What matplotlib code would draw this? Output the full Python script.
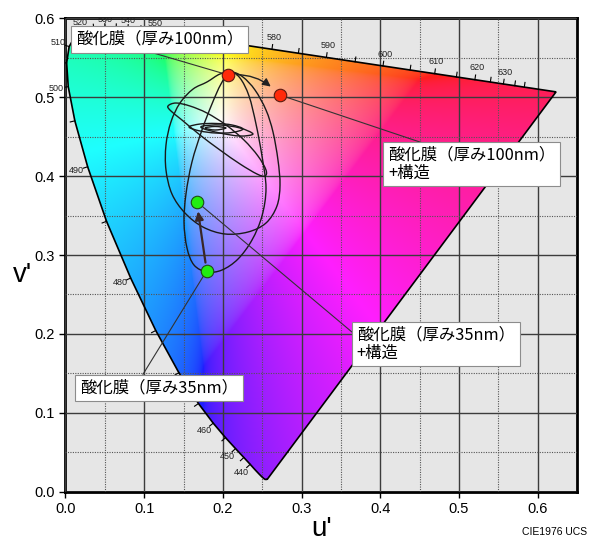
import numpy as np
import matplotlib.pyplot as plt
from matplotlib.path import Path
from matplotlib.patches import PathPatch, Polygon, FancyArrowPatch

plt.rcParams['font.family'] = ['Liberation Sans', 'DejaVu Sans']
JP = ['Noto Sans CJK JP', 'DejaVu Sans']

# CIE 1931 2 deg spectral locus (x, y), 380-700 nm every 5 nm
wavelengths = np.arange(380, 705, 5)
locus_x = [0.1741, 0.1740, 0.1738, 0.1736, 0.1733, 0.1730, 0.1726, 0.1721, 0.1714, 0.1703,
           0.1689, 0.1669, 0.1644, 0.1611, 0.1566, 0.1510, 0.1440, 0.1355, 0.1241, 0.1096,
           0.0913, 0.0687, 0.0454, 0.0235, 0.0082, 0.0039, 0.0139, 0.0389, 0.0743, 0.1142,
           0.1547, 0.1929, 0.2296, 0.2658, 0.3016, 0.3373, 0.3731, 0.4087, 0.4441, 0.4788,
           0.5125, 0.5448, 0.5752, 0.6029, 0.6270, 0.6482, 0.6658, 0.6801, 0.6915, 0.7006,
           0.7079, 0.7140, 0.7190, 0.7230, 0.7260, 0.7283, 0.7300, 0.7311, 0.7320, 0.7327,
           0.7334, 0.7340, 0.7344, 0.7346, 0.7347]
locus_y = [0.0050, 0.0050, 0.0049, 0.0049, 0.0048, 0.0048, 0.0048, 0.0048, 0.0051, 0.0058,
           0.0069, 0.0086, 0.0109, 0.0138, 0.0177, 0.0227, 0.0297, 0.0399, 0.0578, 0.0868,
           0.1327, 0.2007, 0.2950, 0.4127, 0.5384, 0.6548, 0.7502, 0.8120, 0.8338, 0.8262,
           0.8059, 0.7816, 0.7543, 0.7243, 0.6923, 0.6589, 0.6245, 0.5896, 0.5547, 0.5202,
           0.4866, 0.4544, 0.4242, 0.3965, 0.3725, 0.3514, 0.3340, 0.3197, 0.3083, 0.2993,
           0.2920, 0.2859, 0.2809, 0.2770, 0.2740, 0.2717, 0.2700, 0.2689, 0.2680, 0.2673,
           0.2666, 0.2660, 0.2656, 0.2654, 0.2653]
label_wl = [440, 450, 460, 480, 490, 500, 510, 520, 530, 540, 550,
            580, 590, 600, 610, 620, 630]

# measured points (u', v')
red_100 = (0.2065, 0.528)
red_100s = (0.2725, 0.5025)
green_35s = (0.1667, 0.3675)
green_35 = (0.1794, 0.280)

# colour trajectories
loop_outer = [(0.1798, 0.519), (0.162, 0.510), (0.1455, 0.4924), (0.134, 0.4684),
              (0.1277, 0.4392), (0.1277, 0.4076), (0.1353, 0.3772), (0.1518, 0.3532),
              (0.1747, 0.3354), (0.2027, 0.3266), (0.2319, 0.3291), (0.2548, 0.3405),
              (0.2687, 0.362), (0.2726, 0.3886), (0.27, 0.4203), (0.2637, 0.4557),
              (0.2548, 0.4835), (0.2408, 0.5089), (0.2255, 0.5253), (0.2116, 0.5316),
              (0.1963, 0.5291)]
loop_mid = [(0.1798, 0.2785), (0.1633, 0.2873), (0.1544, 0.3089), (0.1506, 0.3418),
            (0.1531, 0.3772), (0.1607, 0.4177), (0.1734, 0.4582), (0.1861, 0.4911),
            (0.1976, 0.5165), (0.209, 0.5316), (0.2217, 0.5241), (0.2332, 0.5013),
            (0.2421, 0.4658), (0.2497, 0.4253), (0.2548, 0.3848), (0.2497, 0.3494),
            (0.237, 0.319), (0.2192, 0.2949), (0.1989, 0.281)]
loop_tilt = [(0.1302, 0.4886), (0.1404, 0.4924), (0.1582, 0.4886), (0.1798, 0.4797),
             (0.204, 0.4646), (0.2268, 0.4456), (0.2446, 0.4253), (0.2548, 0.4076),
             (0.2535, 0.400), (0.2434, 0.4025), (0.2218, 0.4152), (0.1963, 0.4329),
             (0.1709, 0.4519), (0.148, 0.4709), (0.134, 0.4823)]
flat_1 = [(0.1569, 0.462), (0.1709, 0.4658), (0.1912, 0.4665), (0.2116, 0.4646),
          (0.2255, 0.4595), (0.2116, 0.4551), (0.1912, 0.4544), (0.1709, 0.4570)]
flat_2 = [(0.1747, 0.4633), (0.1963, 0.4646), (0.2217, 0.4608), (0.2382, 0.4532),
          (0.2217, 0.4506), (0.1963, 0.4544), (0.1747, 0.4601)]
flat_3 = [(0.1773, 0.4608), (0.19, 0.4627), (0.204, 0.4608), (0.19, 0.4582)]


def xy_to_uv(x, y):
    x = np.asarray(x)
    y = np.asarray(y)
    d = -2 * x + 12 * y + 3
    return 4 * x / d, 9 * y / d


def smooth_path(pts, closed=True):
    p = np.asarray(pts, dtype=float)
    n = len(p)
    verts = [p[0]]
    codes = [Path.MOVETO]
    segs = n if closed else n - 1
    for i in range(segs):
        p0 = p[(i - 1) % n] if (closed or i > 0) else p[0]
        p1 = p[i]
        p2 = p[(i + 1) % n]
        p3 = p[(i + 2) % n] if (closed or i + 2 < n) else p[-1]
        verts += [p1 + (p2 - p0) / 6, p2 - (p3 - p1) / 6, p2]
        codes += [Path.CURVE4] * 3
    return Path(verts, codes)


fig = plt.figure(figsize=(5.89, 5.41), dpi=100)
ax = fig.add_axes([0.1112, 0.0906, 0.8684, 0.8761])
ax.set_facecolor('#e6e6e6')
ax.set_xlim(0, 0.65)
ax.set_ylim(0, 0.6)

lu, lv = xy_to_uv(locus_x, locus_y)
outline = np.column_stack([lu, lv])

# chromaticity fill: out-of-gamut colours are pulled toward white
uu, vv = np.meshgrid(np.linspace(0, 0.65, 520), np.linspace(0, 0.6, 480))
d = 6 * uu - 16 * vv + 12
cx = 9 * uu / d
cy = np.maximum(4 * vv / d, 1e-4)
X = cx / cy
Y = np.ones_like(X)
Z = (1 - cx - cy) / cy
M = np.array([[3.2406, -1.5372, -0.4986],
              [-0.9689, 1.8758, 0.0415],
              [0.0557, -0.2040, 1.0570]])
rgb = np.einsum('ij,jkl->kli', M, np.stack([X, Y, Z]))
neg = np.minimum(rgb.min(axis=-1, keepdims=True), 0)
rgb = np.clip(rgb - 0.6 * neg, 0, None)
rgb /= np.maximum(rgb.max(axis=-1, keepdims=True), 1e-9)
rgb = np.where(rgb <= 0.0031308, 12.92 * rgb, 1.055 * rgb ** (1 / 2.4) - 0.055)
rgb = 0.88 * rgb + 0.12
img = ax.imshow(np.clip(rgb, 0, 1), origin='lower', extent=[0, 0.65, 0, 0.6],
                aspect='auto', interpolation='bilinear', zorder=1)
img.set_clip_path(Polygon(outline, closed=True, transform=ax.transData))
ax.add_patch(Polygon(outline, closed=True, fill=False, ec='black', lw=1.2, zorder=3))

# grid
ax.set_xticks(np.arange(0, 0.61, 0.1))
ax.set_yticks(np.arange(0, 0.61, 0.1))
ax.set_xticks(np.arange(0.05, 0.65, 0.1), minor=True)
ax.set_yticks(np.arange(0.05, 0.6, 0.1), minor=True)
ax.set_xticklabels([f'{t:.1f}' for t in np.arange(0, 0.61, 0.1)])
ax.set_yticklabels([f'{t:.1f}' for t in np.arange(0, 0.61, 0.1)])
ax.set_axisbelow(False)
ax.grid(which='major', color='#3c3c3c', lw=1.0, zorder=2)
ax.grid(which='minor', color='#555555', lw=0.8, ls=(0, (1, 1.2)), zorder=2)
ax.tick_params(which='major', direction='out', length=4, width=1, labelsize=10.5,
               colors='black')
ax.tick_params(which='minor', length=0)
for s in ax.spines.values():
    s.set_linewidth(2)
ax.set_xlabel("u'", fontsize=20, labelpad=0)
ax.set_ylabel("v'", fontsize=20, labelpad=2, rotation=0)
ax.yaxis.set_label_coords(-0.085, 0.43)

# wavelength ticks along the locus
centre = np.array([0.21, 0.45])
for i, wl in enumerate(wavelengths):
    if wl < 440 or wl > 640:
        continue
    p = outline[i]
    t = outline[i + 1] - outline[i - 1]
    nrm = np.array([-t[1], t[0]])
    nrm /= np.hypot(*nrm)
    if np.dot(nrm, p - centre) < 0:
        nrm = -nrm
    q = p + nrm * 0.006
    ax.plot([p[0], q[0]], [p[1], q[1]], color='black', lw=0.8, zorder=3)
    if wl in label_wl:
        top = 520 <= wl <= 550
        r = p + nrm * (0.011 if top else 0.015)
        ax.text(r[0], r[1], str(wl), fontsize=6.5, color='#222222', ha='center',
                va='center', zorder=3, clip_on=top)

# trajectories
for pts in [loop_outer, loop_mid, loop_tilt, flat_1, flat_2, flat_3]:
    ax.add_patch(PathPatch(smooth_path(pts), fill=False, ec='#1a1a1a', lw=1.0, zorder=4))

# leader lines
leader_col = '#333333'
ax.plot([0.1074, red_100[0]], [0.557, red_100[1]], color=leader_col, lw=0.8, zorder=4)
ax.plot([red_100s[0], 0.454], [red_100s[1], 0.4418], color=leader_col, lw=0.8, zorder=4)
ax.plot([green_35s[0], 0.364], [green_35s[1], 0.2025], color=leader_col, lw=0.8, zorder=4)
ax.plot([0.0985, green_35[0]], [0.149, green_35[1]], color=leader_col, lw=0.8, zorder=4)

# arrows
ax.add_patch(FancyArrowPatch(red_100, red_100s, connectionstyle='arc3,rad=-0.25',
                             arrowstyle='-|>', mutation_scale=12, lw=1.0,
                             color='#222222', shrinkA=6, shrinkB=9, zorder=5))
ax.add_patch(FancyArrowPatch(green_35, green_35s, arrowstyle='-|>', mutation_scale=12,
                             lw=1.6, color='#3a2626', shrinkA=6, shrinkB=7, zorder=5))

# points
ax.plot(*zip(red_100, red_100s), ls='none', marker='o', ms=9, mfc='#ff2a0a',
        mec='#5a1a10', mew=0.8, zorder=6)
ax.plot(*zip(green_35s, green_35), ls='none', marker='o', ms=9, mfc='#22ee11',
        mec='#1d4d14', mew=0.8, zorder=6)

# labels
box = dict(boxstyle='square,pad=0.3', fc='white', ec='#8c8c8c', lw=0.8)
ax.text(0.0133, 0.573, '酸化膜（厚み100nm）', family=JP, fontsize=11.8, ha='left',
        va='center', bbox=box, zorder=7)
ax.text(0.41, 0.437, '酸化膜（厚み100nm）\n+構造', family=JP, fontsize=11.8, ha='left',
        va='top', bbox=box, zorder=7, linespacing=1.05)
ax.text(0.37, 0.209, '酸化膜（厚み35nm）\n+構造', family=JP, fontsize=11.8, ha='left',
        va='top', bbox=box, zorder=7, linespacing=1.05)
ax.text(0.0184, 0.1316, '酸化膜（厚み35nm）', family=JP, fontsize=11.8, ha='left',
        va='center', bbox=box, zorder=7)

fig.text(0.997, 0.008, 'CIE1976 UCS', fontsize=7.5, ha='right', va='bottom')

fig.savefig('out.png', dpi=100)
